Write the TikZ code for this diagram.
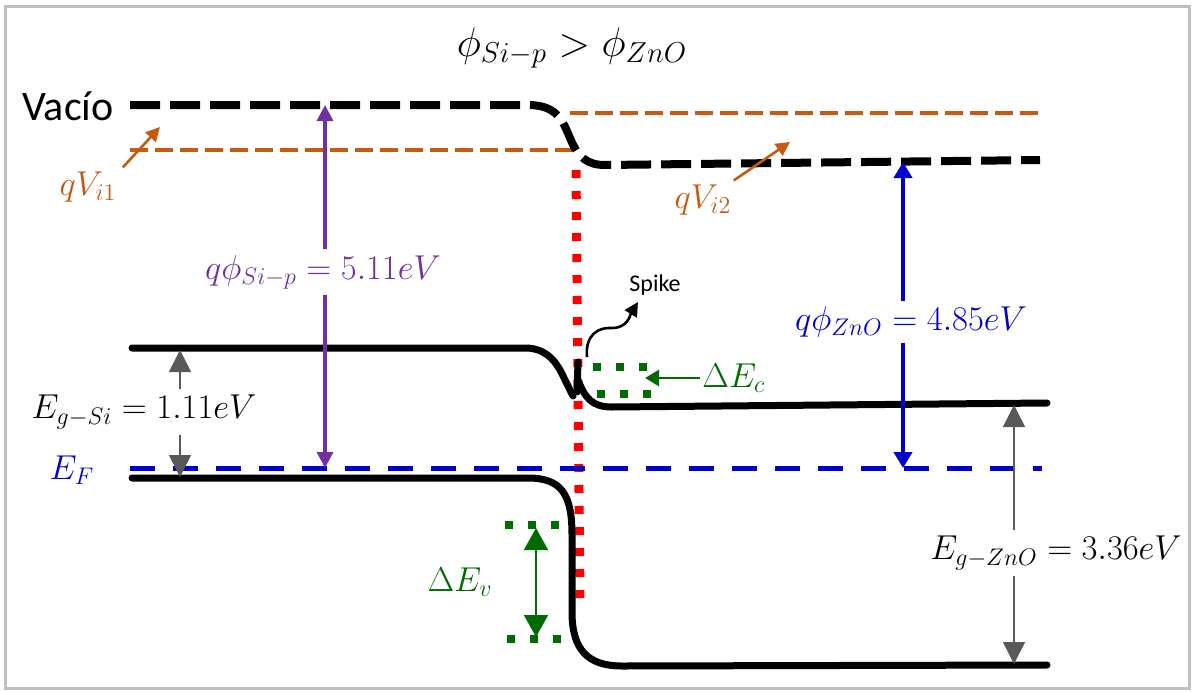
\documentclass[tikz,border=0pt]{standalone}
\usepackage{fontspec}
\newfontfamily\sansfnt{Carlito}
\usetikzlibrary{arrows.meta}
\definecolor{orng}{HTML}{C55A11}
\definecolor{purp}{HTML}{7030A0}
\definecolor{blu}{HTML}{0000CC}
\definecolor{grn}{HTML}{006B00}
\definecolor{gry}{HTML}{595959}
\definecolor{frm}{HTML}{BFBFBF}
\tikzset{
  vac/.style={line width=4pt,dash pattern=on 15pt off 5pt,black},
  ivl/.style={line width=2pt,dash pattern=on 9pt off 3.5pt,orng},
  fermi/.style={line width=2.5pt,dash pattern=on 12.5pt off 9pt,blu},
  band/.style={line width=3.5pt,black,line cap=round},
  iface/.style={line width=4.5pt,dash pattern=on 4pt off 6.5pt,red},
  gdot/.style={line width=4pt,dash pattern=on 4pt off 7.5pt,grn},
  garrow/.style={line width=0.8pt,gry,{Triangle[width=11pt,length=11pt]}-{Triangle[width=11pt,length=11pt]}},
  lab/.style={font=\fontsize{16.5}{19}\selectfont,inner sep=1pt},
}
\begin{document}
\begin{tikzpicture}[x=0.5pt,y=-0.5pt]
\useasboundingbox (0,0) rectangle (1193,691);
\draw[frm,line width=1.5pt] (5,6) rectangle (1189,688);

\node[font=\fontsize{20}{24}\selectfont] (title) at (572,48) {$\phi_{Si-p} > \phi_{ZnO}$};
\node[font=\sansfnt\fontsize{21}{24}\selectfont] (vacio) at (68,106) {Vacío};

% orange interface-voltage levels
\draw[ivl] (130,150) -- (572,150);
\draw[ivl] (570,113) -- (1042,113);

% vacuum level
\draw[vac] (130,105) -- (528,105) .. controls (558,105) and (563,122) .. (570,138) .. controls (578,158) and (588,165) .. (605,165) -- (1040,160);

% red interface
\coordinate (ifTop) at (576,170);
\coordinate (ifBot) at (580,600);
\draw[iface] (ifTop) -- (ifBot);

% Fermi level
\draw[fermi] (130,468) -- (1042,468);

% conduction band
\draw[band] (132,348) -- (525,348) .. controls (552,348) and (560,370) .. (566,382) .. controls (569,388) and (571,392) .. (573,396);
\draw[band] (578,362) -- (577,392);
\draw[band] (578,380) .. controls (585,398) and (592,407) .. (612,407) -- (1047,403);

% valence band
\draw[band] (132,478) -- (528,478) .. controls (562,478) and (572,495) .. (572,535) -- (572,612) .. controls (572,650) and (588,666) .. (622,666) -- (1047,665);

% qVi labels
\node[lab,text=orng] (qv1) at (88,187) {$qV_{i1}$};
\coordinate (qv1tip) at (160,127);
\draw[orng,line width=1.3pt,-{Triangle[width=7pt,length=7pt]}] (qv1.north east) ++(4,-2) -- (qv1tip);
\node[lab,text=orng] (qv2) at (703,200) {$qV_{i2}$};
\coordinate (qv2tip) at (790,142);
\draw[orng,line width=1.3pt,-{Triangle[width=7pt,length=7pt]}] (qv2.north east) ++(0,-2) -- (qv2tip);

% work function arrows
\coordinate (pTop) at (325,105);
\coordinate (pBot) at (325,468);
\draw[purp,line width=1.6pt,{Triangle[width=8pt,length=8pt]}-{Triangle[width=8pt,length=8pt]}] (pTop) -- (pBot);
\node[lab,text=purp,fill=white,inner sep=3pt] (pl) at (323,272) {$q\phi_{Si-p} = 5.11eV$};

\coordinate (bTop) at (903,162);
\coordinate (bBot) at (903,468);
\draw[blu,line width=2pt,{Triangle[width=9pt,length=8pt]}-{Triangle[width=9pt,length=8pt]}] (bTop) -- (bBot);
\node[lab,text=blu,fill=white,inner sep=3pt] (bl) at (911,322) {$q\phi_{ZnO} = 4.85eV$};

% band gap arrows
\coordinate (g1Top) at (180,350);
\coordinate (g1Bot) at (180,477);
\draw[garrow] (g1Top) -- (g1Bot);
\node[lab,fill=white,inner sep=3pt] (g1l) at (144,412) {$E_{g-Si} = 1.11eV$};

\coordinate (g2Top) at (1014,405);
\coordinate (g2Bot) at (1014,664);
\draw[garrow] (g2Top) -- (g2Bot);
\node[lab,fill=white,inner sep=3pt] (g2l) at (1056,553) {$E_{g-ZnO} = 3.36eV$};

\node[lab,text=blu] (ef) at (72,470) {$E_F$};

% Delta Ec
\draw[gdot] (593,367) -- (652,367);
\draw[gdot] (597,394) -- (656,394);
\node[lab,text=grn,anchor=west] (dec) at (700,378) {$\Delta E_c$};
\coordinate (decTip) at (645,378);
\draw[grn,line width=1.3pt,-{Triangle[width=8pt,length=7pt]}] (dec.west) -- (decTip);

% Delta Ev
\draw[gdot] (505,525) -- (565,525);
\draw[gdot] (507,639) -- (567,639);
\coordinate (evTop) at (536,528);
\coordinate (evBot) at (536,637);
\draw[grn,line width=0.9pt,{Triangle[width=12pt,length=11pt]}-{Triangle[width=12pt,length=11pt]}] (evTop) -- (evBot);
\node[lab,text=grn] (dev) at (460,582) {$\Delta E_v$};

% Spike
\node[font=\sansfnt\fontsize{12}{14}\selectfont] (spike) at (655,285) {Spike};
\coordinate (spStart) at (587,357);
\coordinate (spTip) at (638,302);
\draw[black,line width=1.3pt,-{Triangle[width=7pt,length=7pt]}] (spStart) .. controls (585,335) and (598,327) .. (612,328) .. controls (628,328) and (630,315) .. (spTip);
\end{tikzpicture}
\end{document}
